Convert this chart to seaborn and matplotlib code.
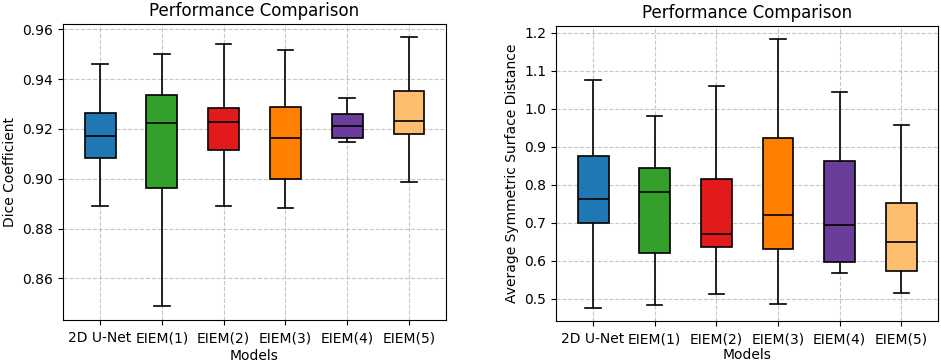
import pandas as pd
import matplotlib
matplotlib.use("Agg")
import matplotlib.pyplot as plt
import seaborn as sns

models = ["2D U-Net", "EIEM(1)", "EIEM(2)", "EIEM(3)", "EIEM(4)", "EIEM(5)"]
colors = ["#1f78b4", "#33a02c", "#e31a1c", "#ff7f00", "#6a3d9a", "#fdbf6f"]

# five-number summaries: min, q1, median, q3, max
dice_unet = [0.8890, 0.9083, 0.9171, 0.9264, 0.9462]
dice_eiem1 = [0.8488, 0.8962, 0.9224, 0.9336, 0.9499]
dice_eiem2 = [0.8890, 0.9115, 0.9228, 0.9284, 0.9540]
dice_eiem3 = [0.8882, 0.8999, 0.9165, 0.9288, 0.9515]
dice_eiem4 = [0.9147, 0.9163, 0.9213, 0.9260, 0.9324]
dice_eiem5 = [0.8986, 0.9179, 0.9232, 0.9353, 0.9567]

assd_unet = [0.4755, 0.7006, 0.7619, 0.8767, 1.0756]
assd_eiem1 = [0.4842, 0.6209, 0.7821, 0.8452, 0.9801]
assd_eiem2 = [0.5131, 0.6375, 0.6708, 0.8154, 1.0598]
assd_eiem3 = [0.4868, 0.6323, 0.7216, 0.9223, 1.1842]
assd_eiem4 = [0.5683, 0.5972, 0.6945, 0.8636, 1.0440]
assd_eiem5 = [0.5149, 0.5736, 0.6498, 0.7532, 0.9564]


def long_form(series):
    rows = []
    for name, vals in zip(models, series):
        for v in vals:
            rows.append({"Models": name, "value": v})
    return pd.DataFrame(rows)


dice_df = long_form([dice_unet, dice_eiem1, dice_eiem2, dice_eiem3, dice_eiem4, dice_eiem5])
assd_df = long_form([assd_unet, assd_eiem1, assd_eiem2, assd_eiem3, assd_eiem4, assd_eiem5])

fig = plt.figure(figsize=(9.41, 3.64), dpi=100)
ax1 = fig.add_axes([0.067, 0.121, 0.407, 0.813])
ax2 = fig.add_axes([0.591, 0.118, 0.406, 0.811])


def draw(ax, df, ylabel, lpad):
    sns.boxplot(data=df, x="Models", y="value", hue="Models", palette=colors,
                saturation=1, width=0.5, whis=(0, 100), linecolor="black",
                linewidth=1.2, legend=False, ax=ax)
    ax.set_title("Performance Comparison", fontsize=12)
    ax.set_xlabel("Models", fontsize=10, labelpad=lpad)
    ax.set_ylabel(ylabel, fontsize=10)
    ax.tick_params(labelsize=10)
    ax.tick_params(axis="x", pad=4.5)
    ax.grid(True, linestyle="--", color="#b8b8b8", linewidth=0.8, alpha=0.8)
    ax.set_axisbelow(True)
    ax.set_xlim(-0.6, 5.6)
    for s in ax.spines.values():
        s.set_color("black")


draw(ax1, dice_df, "Dice Coefficient", 2.5)
draw(ax2, assd_df, "Average Symmetric Surface Distance", 1)
ax1.set_ylim(0.8433, 0.9621)
ax2.set_ylim(0.4417, 1.218)
ax1.set_yticks([0.86, 0.88, 0.90, 0.92, 0.94, 0.96])
ax2.set_yticks([0.5, 0.6, 0.7, 0.8, 0.9, 1.0, 1.1, 1.2])

fig.savefig("out.png", dpi=100)
